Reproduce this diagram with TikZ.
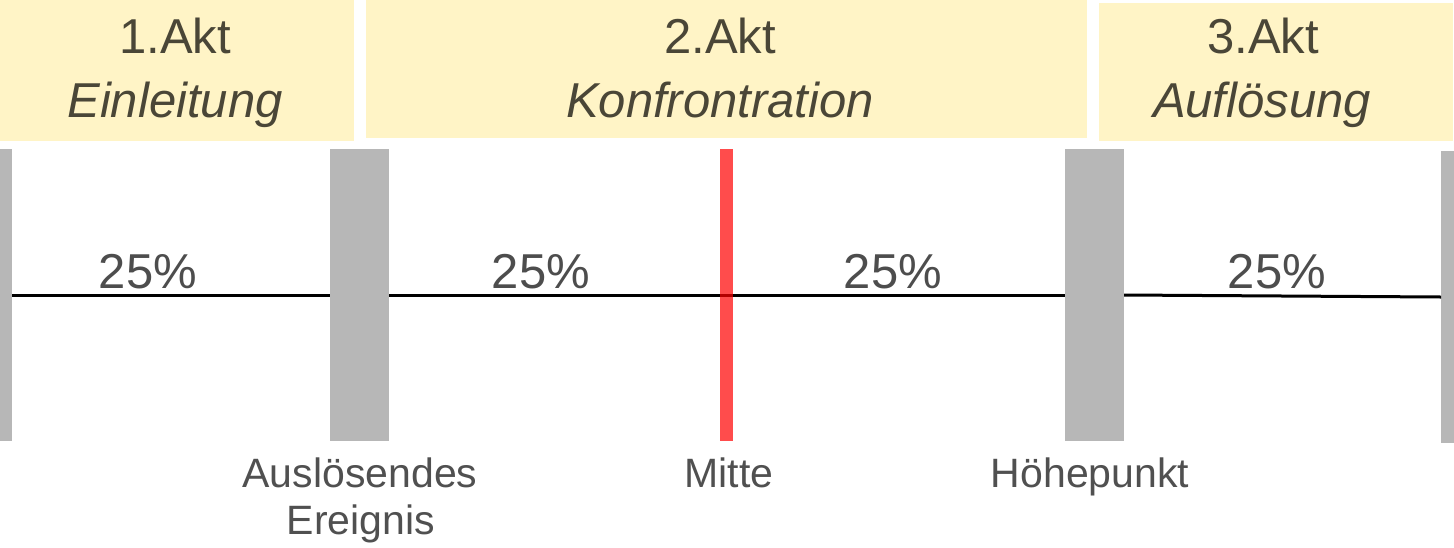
\documentclass[tikz,border=0pt]{standalone}
\usepackage{fontspec}
\setmainfont{Liberation Sans}
\definecolor{boxfill}{HTML}{FFF4C6}
\definecolor{boxtext}{HTML}{4A4637}
\definecolor{bargray}{HTML}{B7B7B7}
\definecolor{midred}{HTML}{FF0000}
\definecolor{pcttext}{HTML}{4D4D4D}
\definecolor{labtext}{HTML}{505050}
\tikzset{
  actbox/.style={draw=none,fill=boxfill,inner sep=0pt,outer sep=0pt},
  acttitle/.style={anchor=base,inner sep=0pt,text=boxtext,font=\fontsize{49}{58}\selectfont},
  actname/.style={anchor=base,inner sep=0pt,text=boxtext,font=\fontsize{49}{58}\selectfont\itshape},
  bar/.style={draw=none,fill=bargray,inner sep=0pt,outer sep=0pt,minimum height=292pt},
  redbar/.style={draw=none,fill=midred,fill opacity=0.7,inner sep=0pt,outer sep=0pt,minimum height=292pt,minimum width=13pt},
  pct/.style={anchor=base,inner sep=0pt,text=pcttext,font=\fontsize{49}{58}\selectfont},
  lab/.style={anchor=base,inner sep=0pt,text=labtext,align=center,font=\fontsize{41}{50}\selectfont},
  axis/.style={draw=black,line width=3pt}
}
\begin{document}
\begin{tikzpicture}[x=1pt,y=-1pt]
\useasboundingbox[fill=white] (0,0) rectangle (1454,547);
% act boxes
\node[actbox,minimum width=354pt,minimum height=141pt] (box1) at (177,70.5) {};
\node[actbox,minimum width=721pt,minimum height=138pt] (box2) at (726.5,69) {};
\node[actbox,minimum width=354pt,minimum height=138pt] (box3) at (1276,72) {};
\node[acttitle] (t1) at (175,53) {1.Akt};
\node[actname] (n1) at (175,117) {Einleitung};
\node[acttitle] (t2) at (720,53) {2.Akt};
\node[actname] (n2) at (720,117) {Konfrontration};
\node[acttitle] (t3) at (1263,53) {3.Akt};
\node[actname] (n3) at (1262,117) {Auflösung};
% bars
\node[bar,minimum width=12pt] (b1) at (6,295) {};
\node[bar,minimum width=59pt] (b2) at (359.5,295) {};
\node[bar,minimum width=59pt] (b3) at (1094.5,295) {};
\node[bar,minimum width=13pt] (b4) at (1447.5,297) {};
% axis
\draw[axis] (b1.east) -- (b2.west);
\draw[axis] (b2.east) -- (b3.west);
\draw[axis] (b3.east) -- (b4.west);
% midpoint marker (semi-transparent over the axis)
\node[redbar] (m) at (726.5,295) {};
% percentages
\node[pct] (p1) at (148,288) {25\%};
\node[pct] (p2) at (541,288) {25\%};
\node[pct] (p3) at (893,288) {25\%};
\node[pct] (p4) at (1277,288) {25\%};
% bottom labels
\node[lab] (l1) at (360,487) {Auslösendes};
\node[lab] (l1b) at (361,534) {Ereignis};
\node[lab] (l2) at (729,487) {Mitte};
\node[lab] (l3) at (1090,487) {Höhepunkt};
\end{tikzpicture}
\end{document}
